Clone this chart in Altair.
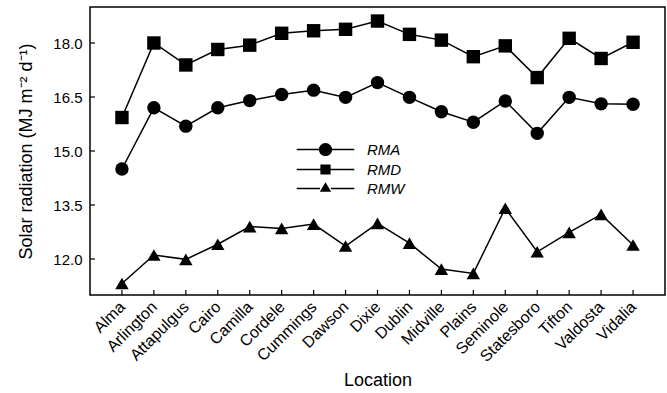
import altair as alt
import pandas as pd

locations = ["Alma", "Arlington", "Attapulgus", "Cairo", "Camilla", "Cordele",
             "Cummings", "Dawson", "Dixie", "Dublin", "Midville", "Plains",
             "Seminole", "Statesboro", "Tifton", "Valdosta", "Vidalia"]
rma = [14.50, 16.20, 15.69, 16.20, 16.40, 16.57, 16.69, 16.49, 16.90, 16.49,
       16.09, 15.80, 16.39, 15.49, 16.49, 16.31, 16.30]
rmd = [15.93, 18.00, 17.39, 17.82, 17.94, 18.27, 18.34, 18.38, 18.61, 18.24,
       18.08, 17.62, 17.92, 17.04, 18.13, 17.57, 18.02]
rmw = [11.32, 12.11, 11.99, 12.41, 12.90, 12.85, 12.97, 12.36, 12.99, 12.44,
       11.72, 11.60, 13.41, 12.20, 12.74, 13.24, 12.39]
series_names = ["RMA", "RMD", "RMW"]
y_ticks = [12.0, 13.5, 15.0, 16.5, 18.0]

rows = []
for name, vals in zip(series_names, [rma, rmd, rmw]):
    for loc, v in zip(locations, vals):
        rows.append({"Location": loc, "Series": name, "Value": v})
df = pd.DataFrame(rows)
loc_df = pd.DataFrame({"Location": locations})
ytick_df = pd.DataFrame({"Tick": y_ticks})

W, H = 575, 288
FONT = "Liberation Sans"

x_enc = alt.X("Location:N", sort=locations,
              scale=alt.Scale(type="point", padding=1, domain=locations),
              axis=alt.Axis(title="Location", labelAngle=-45, labelAlign="right",
                            labelBaseline="middle", labelPadding=9, labelFontSize=16,
                            ticks=False, domain=False, titlePadding=7))
y_enc = alt.Y("Value:Q", scale=alt.Scale(domain=[11, 19], nice=False, zero=False),
              axis=alt.Axis(title="Solar radiation (MJ m\u207b\u00b2 d\u207b\u00b9)",
                            values=y_ticks, format=".1f", ticks=False, domain=False,
                            grid=False, labelPadding=8, titlePadding=17))

lines = alt.Chart(df).mark_line(color="black", strokeWidth=1.5).encode(
    x=x_enc, y=y_enc, detail="Series:N")

points = alt.Chart(df).mark_point(filled=True, color="black", size=180, opacity=1).encode(
    x=x_enc, y=y_enc,
    shape=alt.Shape("Series:N", scale=alt.Scale(domain=series_names,
                                                range=["circle", "square", "triangle-up"]),
                    legend=None))

legend_paths = [
    "M-4.8,-0.11H-1V0.11H-4.8Z M1,-0.11H4.8V0.11H1Z "
    "M-1.1,0A1.1,1.1 0 1,1 1.1,0A1.1,1.1 0 1,1 -1.1,0Z",
    "M-4.8,-0.11H-0.85V0.11H-4.8Z M0.85,-0.11H4.8V0.11H0.85Z "
    "M-0.85,-0.85H0.85V0.85H-0.85Z",
    "M-4.8,-0.11H-0.9V0.11H-4.8Z M0.9,-0.11H4.8V0.11H0.9Z "
    "M0,-1.05L0.95,0.55L-0.95,0.55Z",
]
legend_layer = alt.Chart(df).transform_filter("false").mark_point(
    filled=True, color="black", size=144, opacity=1
).encode(
    shape=alt.Shape("Series:N", scale=alt.Scale(domain=series_names, range=legend_paths),
                    legend=alt.Legend(title=None, orient="none", legendX=228, legendY=135,
                                      symbolSize=144, symbolFillColor="black",
                                      labelFont=FONT, labelFontSize=15,
                                      labelFontStyle="italic", labelColor="black",
                                      labelOffset=34, rowPadding=1))
)

xticks = alt.Chart(loc_df).mark_rule(color="black", strokeWidth=1.2).encode(
    x=alt.X("Location:N", sort=locations,
            scale=alt.Scale(type="point", padding=1, domain=locations)),
    y=alt.value(H), y2=alt.value(H - 5))
yticks = alt.Chart(ytick_df).mark_rule(color="black", strokeWidth=1.2).encode(
    y=alt.Y("Tick:Q", scale=alt.Scale(domain=[11, 19], nice=False, zero=False)),
    x=alt.value(0), x2=alt.value(5))

chart = alt.layer(lines, points, xticks, yticks, legend_layer).resolve_scale(
    shape="independent"
).properties(
    width=W, height=H,
    autosize=alt.AutoSizeParams(type="none"),
    padding={"left": 90, "top": 7, "right": 2, "bottom": 98},
).configure_view(stroke="black", strokeWidth=1.5).configure_axis(
    labelFont=FONT, titleFont=FONT, labelFontSize=15, titleFontSize=18,
    labelColor="black", titleColor="black", titleFontWeight="normal", grid=False
)

chart.save("out.html", embed_options={"renderer": "svg", "actions": False})
